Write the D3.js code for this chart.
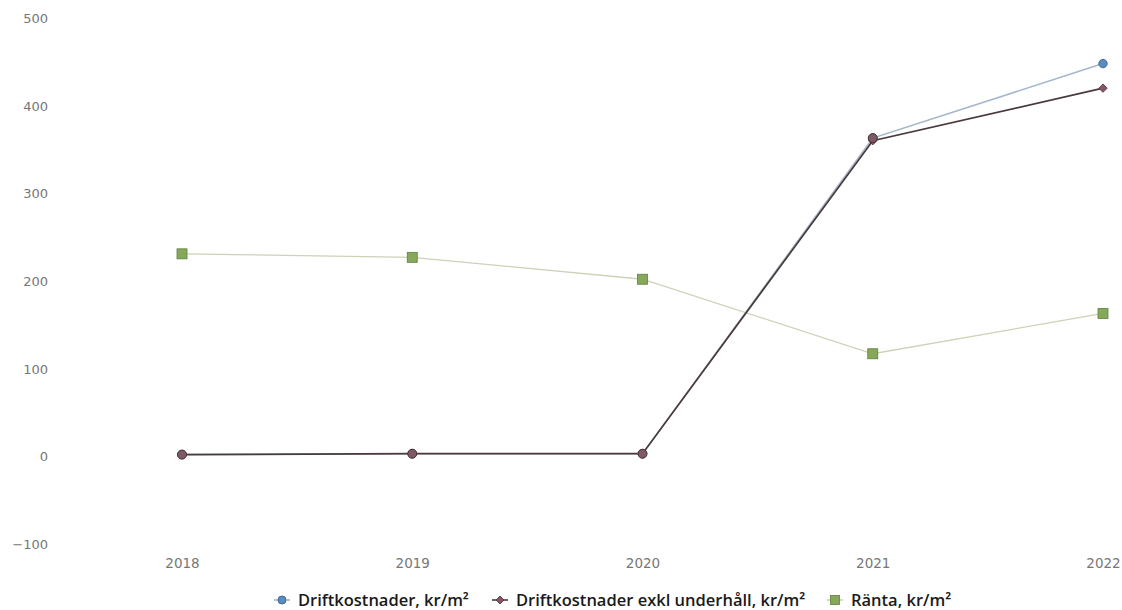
<!DOCTYPE html>
<html><head><meta charset="utf-8">
<script src="https://cdn.jsdelivr.net/npm/d3@7"></script>
<style>body{margin:0;background:#fff;} text{font-family:"DejaVu Sans",sans-serif;}</style>
</head><body>
<svg id="c" width="1122" height="610"></svg>
<script>
const years = ["2018","2019","2020","2021","2022"];
const drift = [2, 3, 3, 363, 448];
const driftExkl = [2, 3, 3, 360, 420];
const ranta = [231, 227, 202, 117, 163];
const yTicks = [-100, 0, 100, 200, 300, 400, 500];
const seriesNames = ["Driftkostnader, kr/m²", "Driftkostnader exkl underhåll, kr/m²", "Ränta, kr/m²"];

const svg = d3.select("#c");
const x = d3.scalePoint().domain(years).range([182, 1103]);
const y = d3.scaleLinear().domain([-100, 500]).range([544, 18]);

const yAxis = d3.axisLeft(y).tickValues(yTicks).tickSize(0).tickPadding(0).tickFormat(d => d < 0 ? "\u2212" + Math.abs(d) : d);
const gy = svg.append("g").attr("transform", "translate(48,0)").call(yAxis);
gy.select(".domain").remove();
gy.selectAll("text").attr("fill", "#777").style("font-size", "13px").attr("dy", "0.35em");

const xAxis = d3.axisBottom(x).tickSize(0).tickPadding(0);
const gx = svg.append("g").attr("transform", "translate(0,563)").call(xAxis);
gx.select(".domain").remove();
gx.selectAll("text").attr("fill", "#777").style("font-size", "13.5px").attr("y", 0).attr("dy", "0.35em");

const series = [
  {name: seriesNames[2], vals: ranta, line: "#cdd2b6", fill: "#86a85a", stroke: "#5f7f3f", shape: "square", w: 1.3},
  {name: seriesNames[0], vals: drift, line: "#a3b6ca", fill: "#5b8cc0", stroke: "#3e6a99", shape: "circle", w: 1.5},
  {name: seriesNames[1], vals: driftExkl, line: "#4a3a3d", fill: "#8a5560", stroke: "#4a2f35", shape: "diamond", w: 1.7},
];
const lineGen = d3.line().x((d, i) => x(years[i])).y(d => y(d));

function marker(g, s, cx, cy, r) {
  if (s.shape === "circle") {
    g.append("circle").attr("cx", cx).attr("cy", cy).attr("r", r).attr("fill", s.fill).attr("stroke", s.stroke).attr("stroke-width", 1);
  } else if (s.shape === "square") {
    g.append("rect").attr("x", cx - r).attr("y", cy - r).attr("width", 2 * r).attr("height", 2 * r).attr("fill", s.fill).attr("stroke", s.stroke).attr("stroke-width", 0.8);
  } else {
    g.append("path").attr("d", `M${cx},${cy - r}L${cx + r},${cy}L${cx},${cy + r}L${cx - r},${cy}Z`).attr("fill", s.fill).attr("stroke", s.stroke).attr("stroke-width", 0.8);
  }
}

series.forEach(s => {
  svg.append("path").datum(s.vals).attr("d", lineGen).attr("fill", "none").attr("stroke", s.line).attr("stroke-width", s.w);
});
series.forEach(s => {
  const g = svg.append("g");
  s.vals.forEach((v, i) => marker(g, s, x(years[i]), y(v), s.shape === "square" ? 5 : 4.2));
});
// overlapping drift / exkl points drawn as shared brownish circles
const gTop = svg.append("g");
drift.forEach((v, i) => {
  if (i < 4) gTop.append("circle").attr("cx", x(years[i])).attr("cy", y(v)).attr("r", 4.5).attr("fill", "#7d5a66").attr("stroke", "#4a2f35").attr("stroke-width", 1);
});

// legend
const legendItems = [
  {s: series[1], x: 282},
  {s: series[2], x: 500},
  {s: series[0], x: 835},
];
const lg = svg.append("g");
legendItems.forEach(it => {
  const cy = 600;
  lg.append("line").attr("x1", it.x - 8).attr("x2", it.x + 8).attr("y1", cy).attr("y2", cy).attr("stroke", it.s.line).attr("stroke-width", 1.6);
  marker(lg, it.s, it.x, cy, it.s.shape === "square" ? 4.5 : 4);
  lg.append("text").attr("x", it.x + 16).attr("y", cy).attr("dy", "0.35em").attr("fill", "#1a1a1a")
    .style("font-family", "'Open Sans', sans-serif").style("font-weight", "600").style("font-size", "16.5px").text(it.s.name);
});
</script>
</body></html>
